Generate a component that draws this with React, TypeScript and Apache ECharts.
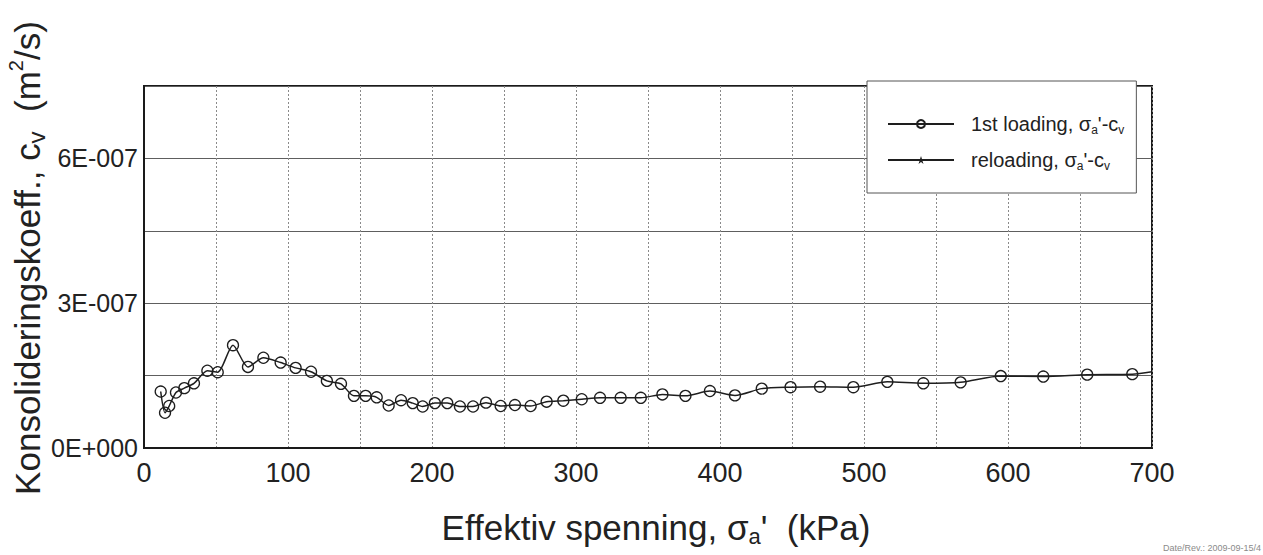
import React, { useEffect, useRef } from "react";
import * as echarts from "echarts";

// Effective stress (kPa) for the first loading step series
const stressKPa: number[] = [
  11.6, 14.6, 17.5, 22.2, 28.0, 34.7, 44.0, 51.2, 61.8, 72.2, 82.9, 94.9, 105.3, 116.0,
  127.0, 136.8, 145.8, 153.9, 161.6, 169.9, 178.5, 186.6, 193.5, 202.0, 210.6, 219.4,
  228.5, 237.5, 247.7, 257.6, 268.5, 279.6, 291.2, 304.0, 316.7, 331.0, 345.0, 360.0,
  376.0, 393.0, 410.4, 429.0, 449.0, 469.5, 492.6, 516.2, 541.2, 567.1, 595.0, 624.5,
  655.0, 686.3, 700.0,
];

// Consolidation coefficient c_v (m²/s) at each stress step
const cvM2s: number[] = [
  1.17e-7, 0.73e-7, 0.87e-7, 1.15e-7, 1.24e-7, 1.34e-7, 1.6e-7, 1.57e-7, 2.13e-7, 1.68e-7,
  1.87e-7, 1.77e-7, 1.66e-7, 1.58e-7, 1.39e-7, 1.33e-7, 1.08e-7, 1.08e-7, 1.05e-7, 0.88e-7,
  0.99e-7, 0.93e-7, 0.86e-7, 0.93e-7, 0.93e-7, 0.86e-7, 0.86e-7, 0.94e-7, 0.87e-7, 0.89e-7,
  0.87e-7, 0.96e-7, 0.98e-7, 1.01e-7, 1.04e-7, 1.04e-7, 1.04e-7, 1.11e-7, 1.08e-7, 1.18e-7,
  1.09e-7, 1.23e-7, 1.26e-7, 1.27e-7, 1.26e-7, 1.37e-7, 1.34e-7, 1.36e-7, 1.49e-7, 1.48e-7,
  1.52e-7, 1.53e-7, 1.58e-7,
];

// Reloading series (no measurements in this test)
const reloadStress: number[] = [];
const reloadCv: number[] = [];

const seriesNames = ["1st loading", "reloading"];
const legendLabels = [
  "1st loading, σ{sub|a}'-c{sub|v}",
  "reloading, σ{sub|a}'-c{sub|v}",
];

const xTitle = "Effektiv spenning, σ{sub|a}'  (kPa)";
const yTitle = "Konsolideringskoeff., c{sub|v}  (m{sup|2}/s)";
const stampText = "Date/Rev.: 2009-09-15/4";

const FONT = "'Liberation Sans', Arial, Helvetica, sans-serif";
const INK = "#1e1e1e";
const STAR =
  "path://M5,0 L6.2,3.6 L10,3.6 L6.9,5.8 L8.1,9.5 L5,7.2 L1.9,9.5 L3.1,5.8 L0,3.6 L3.8,3.6 Z";

function formatCv(v: number): string {
  const step = Math.round(v / 1.5e-7);
  if (step % 2 !== 0) return "";
  if (Math.abs(v) < 1e-12) return "0E+000";
  return `${Math.round(v / 1e-7)}E-007`;
}

export default function App() {
  const ref = useRef<HTMLDivElement>(null);

  useEffect(() => {
    if (!ref.current) return;
    const chart = echarts.init(ref.current, undefined, { renderer: "svg" });

    const loadData = stressKPa.map((x, i) =>
      i === stressKPa.length - 1
        ? { value: [x, cvM2s[i]], symbol: "none" }
        : { value: [x, cvM2s[i]] }
    );
    const reloadData = reloadStress.map((x, i) => [x, reloadCv[i]]);

    chart.setOption({
      animation: false,
      backgroundColor: "#ffffff",
      grid: {
        left: 144,
        right: 111,
        top: 86,
        bottom: 107,
        show: true,
        borderColor: "#1a1a1a",
        borderWidth: 2,
        backgroundColor: "transparent",
      },
      xAxis: {
        type: "value",
        min: 0,
        max: 700,
        interval: 50,
        axisLine: { show: true, lineStyle: { color: "#1a1a1a", width: 2 } },
        axisTick: { show: false },
        axisLabel: {
          margin: 11,
          fontSize: 27,
          fontFamily: FONT,
          color: "#222",
          formatter: (v: number) => (v % 100 === 0 ? String(v) : ""),
        },
        splitLine: {
          show: true,
          lineStyle: { color: "#8a8a8a", width: 1, type: [2, 2] },
        },
      },
      yAxis: {
        type: "value",
        min: 0,
        max: 7.5e-7,
        interval: 1.5e-7,
        axisLine: { show: true, lineStyle: { color: "#1a1a1a", width: 2 } },
        axisTick: { show: false },
        axisLabel: {
          margin: 6,
          fontSize: 25,
          fontFamily: FONT,
          color: "#222",
          formatter: formatCv,
        },
        splitLine: {
          show: true,
          lineStyle: { color: "#5e5e5e", width: 1 },
        },
      },
      legend: {
        orient: "vertical",
        left: 867,
        top: 81,
        padding: [33, 12, 21, 20],
        itemGap: 14,
        itemWidth: 66,
        itemHeight: 10,
        backgroundColor: "#ffffff",
        borderColor: "#555",
        borderWidth: 1,
        data: seriesNames,
        formatter: (name: string) => legendLabels[seriesNames.indexOf(name)],
        textStyle: {
          fontSize: 20,
          fontFamily: FONT,
          color: "#222",
          padding: [0, 0, 0, 12],
          rich: {
            sub: {
              fontSize: 12,
              fontFamily: FONT,
              color: "#222",
              verticalAlign: "bottom",
              padding: [12, 0, 0, 0],
            },
          },
        },
      },
      series: [
        {
          name: seriesNames[0],
          type: "line",
          data: loadData,
          smooth: 0.25,
          symbol: "circle",
          symbolSize: 11,
          lineStyle: { color: INK, width: 1.5 },
          itemStyle: { color: "transparent", borderColor: INK, borderWidth: 1.3 },
          z: 3,
        },
        {
          name: seriesNames[1],
          type: "line",
          data: reloadData,
          symbol: STAR,
          symbolSize: 9,
          lineStyle: { color: INK, width: 1.5 },
          itemStyle: { color: INK },
        },
      ],
      graphic: [
        {
          type: "text",
          x: 27,
          y: 258,
          rotation: Math.PI / 2,
          style: {
            text: yTitle,
            fontSize: 35,
            fontFamily: FONT,
            fill: "#222",
            align: "center",
            verticalAlign: "middle",
            rich: {
              sub: {
                fontSize: 24,
                fontFamily: FONT,
                fill: "#222",
                verticalAlign: "bottom",
                padding: [18, 0, 0, 0],
              },
              sup: {
                fontSize: 20,
                fontFamily: FONT,
                fill: "#222",
                verticalAlign: "top",
                padding: [0, 0, 14, 0],
              },
            },
          },
        },
        {
          type: "text",
          x: 656,
          y: 527,
          style: {
            text: xTitle,
            fontSize: 35,
            fontFamily: FONT,
            fill: "#222",
            align: "center",
            verticalAlign: "middle",
            rich: {
              sub: {
                fontSize: 22,
                fontFamily: FONT,
                fill: "#222",
                verticalAlign: "bottom",
                padding: [18, 0, 0, 0],
              },
            },
          },
        },
        {
          type: "text",
          x: 1261,
          y: 548,
          style: {
            text: stampText,
            fontSize: 9,
            fontFamily: FONT,
            fill: "#8a8a8a",
            align: "right",
            verticalAlign: "middle",
          },
        },
      ],
    });

    return () => chart.dispose();
  }, []);

  return (
    <div
      ref={ref}
      style={{ position: "fixed", left: 0, top: 0, width: 1263, height: 555 }}
    />
  );
}
